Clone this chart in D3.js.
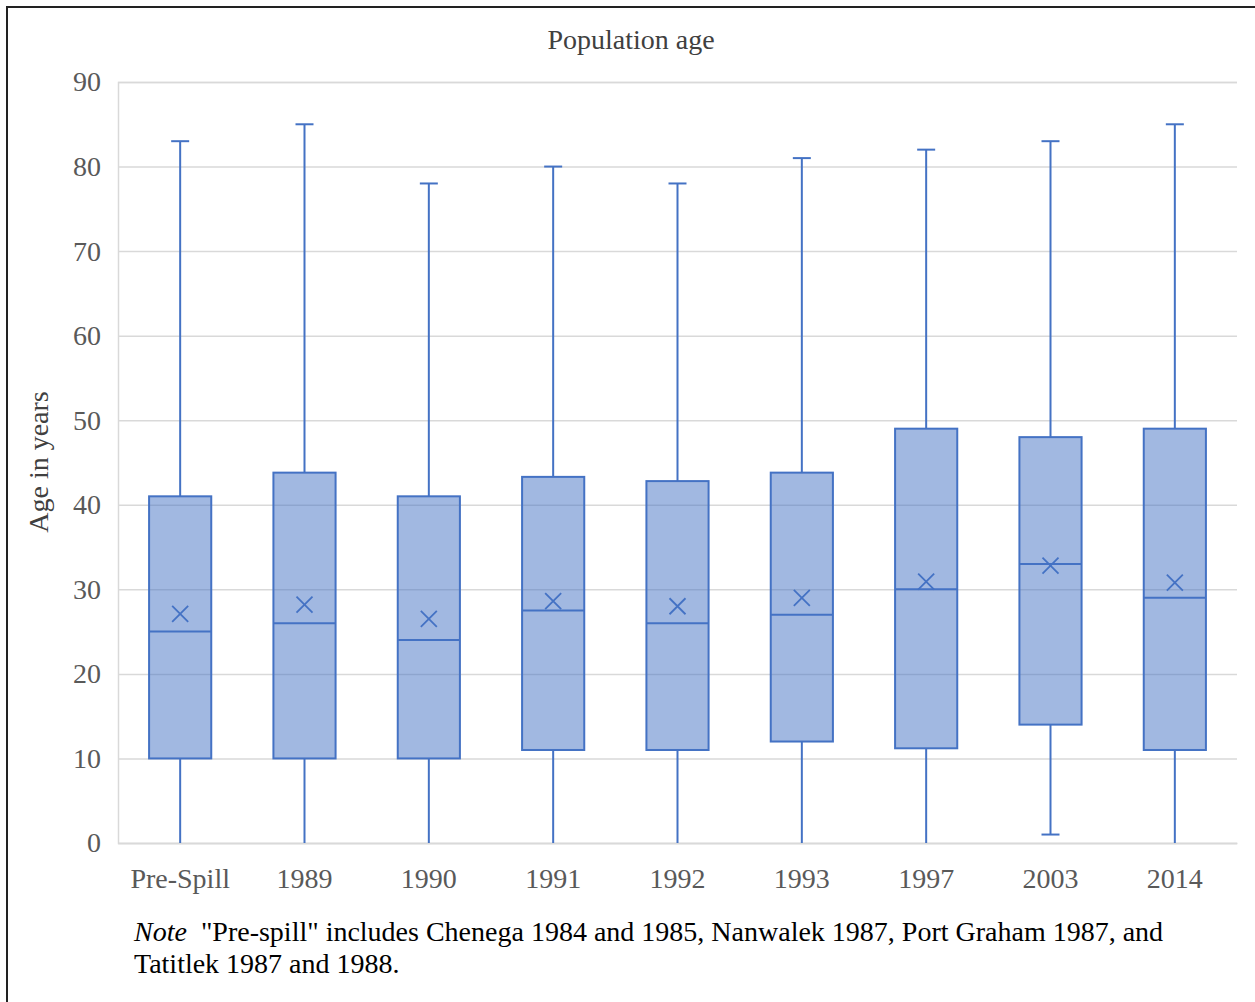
<!DOCTYPE html>
<html><head><meta charset="utf-8">
<script src="https://cdn.jsdelivr.net/npm/d3@7"></script>
<style>body{margin:0;background:#fff}svg{display:block}</style>
</head><body>
<svg id="c" width="1255" height="1002"></svg>
<script>
const categories = ["Pre-Spill","1989","1990","1991","1992","1993","1997","2003","2014"];
const mins    = [0, 0, 0, 0, 0, 0, 0, 1, 0];
const q1s     = [10, 10, 10, 11, 11, 12, 11.2, 14, 11];
const medians = [25, 26, 24, 27.5, 26, 27, 30, 33, 29];
const q3s     = [41, 43.8, 41, 43.3, 42.8, 43.8, 49, 48, 49];
const maxs    = [83, 85, 78, 80, 78, 81, 82, 83, 85];
const means   = [27.1, 28.2, 26.5, 28.6, 28.0, 29.0, 30.9, 32.8, 30.8];
const yTicks  = [0,10,20,30,40,50,60,70,80,90];

const svg = d3.select("#c");
const font = "'Liberation Serif','Times New Roman',serif";
const blue = "#4472c4";

// frame
svg.append("rect").attr("x",7).attr("y",7).attr("width",1270).attr("height",1010)
  .attr("fill","none").attr("stroke","#222").attr("stroke-width",2);

const x = d3.scaleBand().domain(categories).range([118,1237]).padding(0);
const y = d3.scaleLinear().domain([0,90]).range([843,82]);

// gridlines
const yAxis = d3.axisLeft(y).tickValues(yTicks).tickSize(-(1237-118)).tickPadding(17);
const gy = svg.append("g").attr("transform","translate(118,0)").call(yAxis);
gy.select(".domain").attr("stroke","#d9d9d9").attr("stroke-width",1.5);
gy.selectAll(".tick line").attr("stroke","#d9d9d9").attr("stroke-width",1.5);
gy.selectAll(".tick text").attr("font-family",font).attr("font-size",28).attr("fill","#595959");

// x axis
const xAxis = d3.axisBottom(x).tickSize(0).tickPadding(25);
const gx = svg.append("g").attr("transform","translate(0,843)").call(xAxis);
gx.select(".domain").attr("stroke","#d9d9d9").attr("stroke-width",1.5);
gx.selectAll(".tick text").attr("font-family",font).attr("font-size",28).attr("fill","#595959");

const data = categories.map((c,i)=>({c,min:mins[i],q1:q1s[i],med:medians[i],q3:q3s[i],max:maxs[i],mean:means[i]}));
const bw = x.bandwidth()*0.5;
const cap = 18;
const g = svg.append("g");
const box = g.selectAll("g.box").data(data).join("g").attr("class","box")
  .attr("transform",d=>`translate(${x(d.c)+x.bandwidth()/2},0)`);

// whiskers
box.append("line").attr("x1",0).attr("x2",0).attr("y1",d=>y(d.max)).attr("y2",d=>y(d.q3))
  .attr("stroke",blue).attr("stroke-width",2);
box.append("line").attr("x1",0).attr("x2",0).attr("y1",d=>y(d.q1)).attr("y2",d=>y(d.min))
  .attr("stroke",blue).attr("stroke-width",2);
box.append("line").attr("x1",-cap/2).attr("x2",cap/2).attr("y1",d=>y(d.max)).attr("y2",d=>y(d.max))
  .attr("stroke",blue).attr("stroke-width",2);
box.filter(d=>d.min>0).append("line").attr("x1",-cap/2).attr("x2",cap/2).attr("y1",d=>y(d.min)).attr("y2",d=>y(d.min))
  .attr("stroke",blue).attr("stroke-width",2);
// box
box.append("rect").attr("x",-bw/2).attr("width",bw)
  .attr("y",d=>y(d.q3)).attr("height",d=>y(d.q1)-y(d.q3))
  .attr("fill",blue).attr("fill-opacity",0.5).attr("stroke",blue).attr("stroke-width",2);
// median
box.append("line").attr("x1",-bw/2).attr("x2",bw/2).attr("y1",d=>y(d.med)).attr("y2",d=>y(d.med))
  .attr("stroke",blue).attr("stroke-width",2);
// mean X
const m = 8;
box.append("path").attr("d",d=>{const yy=y(d.mean);return `M${-m},${yy-m}L${m},${yy+m}M${-m},${yy+m}L${m},${yy-m}`;})
  .attr("stroke",blue).attr("stroke-width",1.8).attr("fill","none");

// title
svg.append("text").attr("x",631).attr("y",49).attr("text-anchor","middle")
  .attr("font-family",font).attr("font-size",28).attr("fill","#404040").text("Population age");
// y label
svg.append("text").attr("transform","translate(48,462) rotate(-90)").attr("text-anchor","middle")
  .attr("font-family",font).attr("font-size",28).attr("fill","#404040").text("Age in years");

// note
const note = svg.append("text").attr("x",134).attr("y",941).attr("font-family",font).attr("font-size",28).attr("fill","#000");
note.append("tspan").attr("font-style","italic").text("Note");
note.append("tspan").attr("dx",14).text("\"Pre-spill\" includes Chenega 1984 and 1985, Nanwalek 1987, Port Graham 1987, and");
svg.append("text").attr("x",134).attr("y",973).attr("font-family",font).attr("font-size",28).attr("fill","#000")
  .text("Tatitlek 1987 and 1988.");
</script>
</body></html>
